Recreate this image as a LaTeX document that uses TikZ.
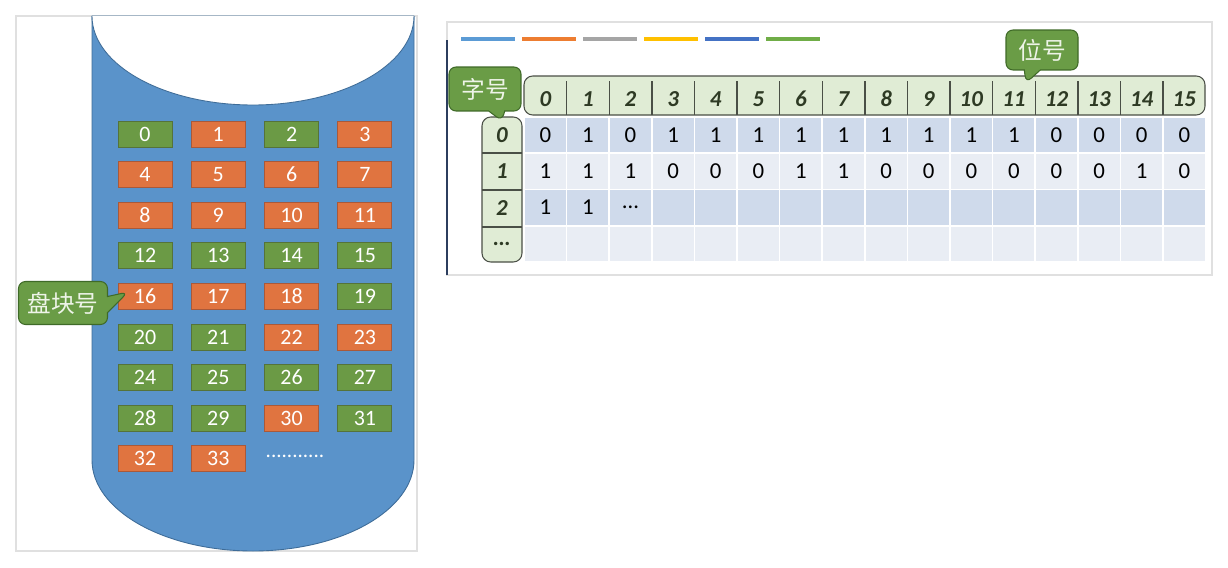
\documentclass[tikz,border=0pt]{standalone}
\usepackage{fontspec}
\setmainfont{Carlito}
\newfontfamily\cjk{Noto Sans CJK SC}
\usetikzlibrary{shapes.callouts,shadows}
\definecolor{cylBlue}{HTML}{5A93CA}
\definecolor{cylLine}{HTML}{3E6C98}
\definecolor{blkGreen}{HTML}{6B9A45}
\definecolor{blkGreenLine}{HTML}{55733A}
\definecolor{blkOrange}{HTML}{E07440}
\definecolor{blkOrangeLine}{HTML}{A9593A}
\definecolor{tipGreen}{HTML}{6A9C46}
\definecolor{tipLine}{HTML}{3F6A28}
\definecolor{tipText}{HTML}{EEF4E8}
\definecolor{hdrFill}{HTML}{E0ECD5}
\definecolor{hdrText}{HTML}{2E3A24}
\definecolor{hdrLine}{HTML}{4A4F46}
\definecolor{rowDark}{HTML}{CFDAEB}
\definecolor{rowLight}{HTML}{E9EDF4}
\definecolor{navyLine}{HTML}{2C3E5E}
\definecolor{lgBlue}{HTML}{5B9BD5}
\definecolor{lgOrange}{HTML}{ED7D31}
\definecolor{lgGray}{HTML}{A5A5A5}
\definecolor{lgGold}{HTML}{FFC000}
\definecolor{lgNavy}{HTML}{4472C4}
\definecolor{lgGreen}{HTML}{70AD47}

\begin{document}
\begin{tikzpicture}[
  x=0.02cm, y=-0.02cm,
  card/.style={fill=white, draw=black!12, line width=0.8pt,
               drop shadow={shadow xshift=0.8pt, shadow yshift=-0.8pt,
               opacity=0.3, fill=black!45}},
  blk/.style={minimum width=1.08cm, minimum height=0.52cm, inner sep=0pt,
              line width=0.5pt, text=white, font=\fontsize{12.5}{14}\selectfont},
  blkg/.style={blk, fill=blkGreen, draw=blkGreenLine},
  blko/.style={blk, fill=blkOrange, draw=blkOrangeLine},
  tip/.style={rectangle callout, rounded corners=4pt, fill=tipGreen, draw=tipLine,
              line width=0.6pt, text=tipText, inner sep=0pt,
              callout pointer width=0.32cm, font=\cjk\fontsize{13.5}{16}\selectfont},
  hdr/.style={text=hdrText, inner sep=0pt, font=\bfseries\itshape\fontsize{13}{15}\selectfont},
  cellv/.style={text=black, inner sep=0pt, font=\fontsize{13}{15}\selectfont}
]
  \useasboundingbox (0,0) rectangle (1228,568);

  % cards
  \path[card] (16,16) rectangle (417,551);
  \path[card] (447,22) rectangle (1212,275);

  % disk
  \draw[fill=cylBlue, draw=cylLine, line width=0.5pt]
    (92,16) -- (92,460) .. controls (92,510) and (164,551) .. (253,551)
    .. controls (342,551) and (414,510) .. (414,460) -- (414,16) -- cycle;
  \fill[white] (92,16) .. controls (92,65) and (164,105) .. (253,105)
    .. controls (342,105) and (414,65) .. (414,16) -- cycle;
  \draw[cylLine, line width=0.5pt] (92,16) .. controls (92,65) and (164,105) .. (253,105)
    .. controls (342,105) and (414,65) .. (414,16);

  % blocks
  \foreach \c [count=\i from 0] in {g,o,g,o, o,o,o,o, o,o,o,o, g,g,g,g,
                                    o,o,o,g, g,g,o,o, g,g,g,g, g,g,o,g, o,o} {
    \pgfmathtruncatemacro\col{mod(\i,4)}
    \pgfmathtruncatemacro\row{int(\i/4)}
    \node[blk\c] (b\i) at ({145+73.3*\col},{134+40.6*\row}) {\i};
  }
  \node[text=white, inner sep=0pt, font=\fontsize{12}{14}\selectfont] (more) at (295,456) {...........};

  \node[tip, minimum width=1.78cm, minimum height=0.86cm,
        callout absolute pointer={(128,292)}] (lblBlock) at (63,303) {盘块号};

  % bitmap
  \draw[navyLine, line width=1pt] (447,40) -- (447,275);
  \foreach \lc [count=\i from 0] in {lgBlue,lgOrange,lgGray,lgGold,lgNavy,lgGreen}
    \draw[\lc, line width=2.5pt] ({461+61*\i},39) -- ({515+61*\i},39);

  \foreach \r in {0,...,3}
    \foreach \c in {0,...,15} {
      \ifodd\r \def\rf{rowLight}\else \def\rf{rowDark}\fi
      \path[fill=\rf, draw=white, line width=1pt]
        ({524+42.6*\c},{117+36.25*\r}) rectangle +(42.6,36.25);
    }

  \draw[fill=hdrFill, draw=hdrLine, line width=0.6pt, rounded corners=5pt]
    (524,76) rectangle (1205,115);
  \foreach \k in {1,...,15}
    \draw[hdrLine, line width=0.8pt] ({524+42.6*\k},81) -- ({524+42.6*\k},115);
  \foreach \i in {0,...,15}
    \node[hdr] (h\i) at ({545.3+42.6*\i},99) {\i};

  \draw[fill=hdrFill, draw=hdrLine, line width=0.6pt, rounded corners=5pt]
    (482,117) rectangle (522,262);
  \foreach \yy in {153,190,227}
    \draw[hdrLine, line width=0.8pt] (482,\yy) -- (522,\yy);
  \foreach \t [count=\i from 0] in {0,1,2,\dots}
    \node[hdr] (r\i) at ({502},{135.1+36.25*\i}) {\t};

  \foreach \v [count=\c from 0] in {0,1,0,1,1,1,1,1,1,1,1,1,0,0,0,0}
    \node[cellv] (va\c) at ({545.3+42.6*\c},135.1) {\v};
  \foreach \v [count=\c from 0] in {1,1,1,0,0,0,1,1,0,0,0,0,0,0,1,0}
    \node[cellv] (vb\c) at ({545.3+42.6*\c},171.4) {\v};
  \foreach \v [count=\c from 0] in {1,1,\dots}
    \node[cellv] (vc\c) at ({545.3+42.6*\c},207.6) {\v};

  \node[tip, minimum width=1.44cm, minimum height=0.88cm,
        callout absolute pointer={(502,121)}] (lblWord) at (485,89) {字号};
  \node[tip, minimum width=1.44cm, minimum height=0.8cm,
        callout absolute pointer={(1026,83)}] (lblBit) at (1042,50) {位号};
\end{tikzpicture}
\end{document}
